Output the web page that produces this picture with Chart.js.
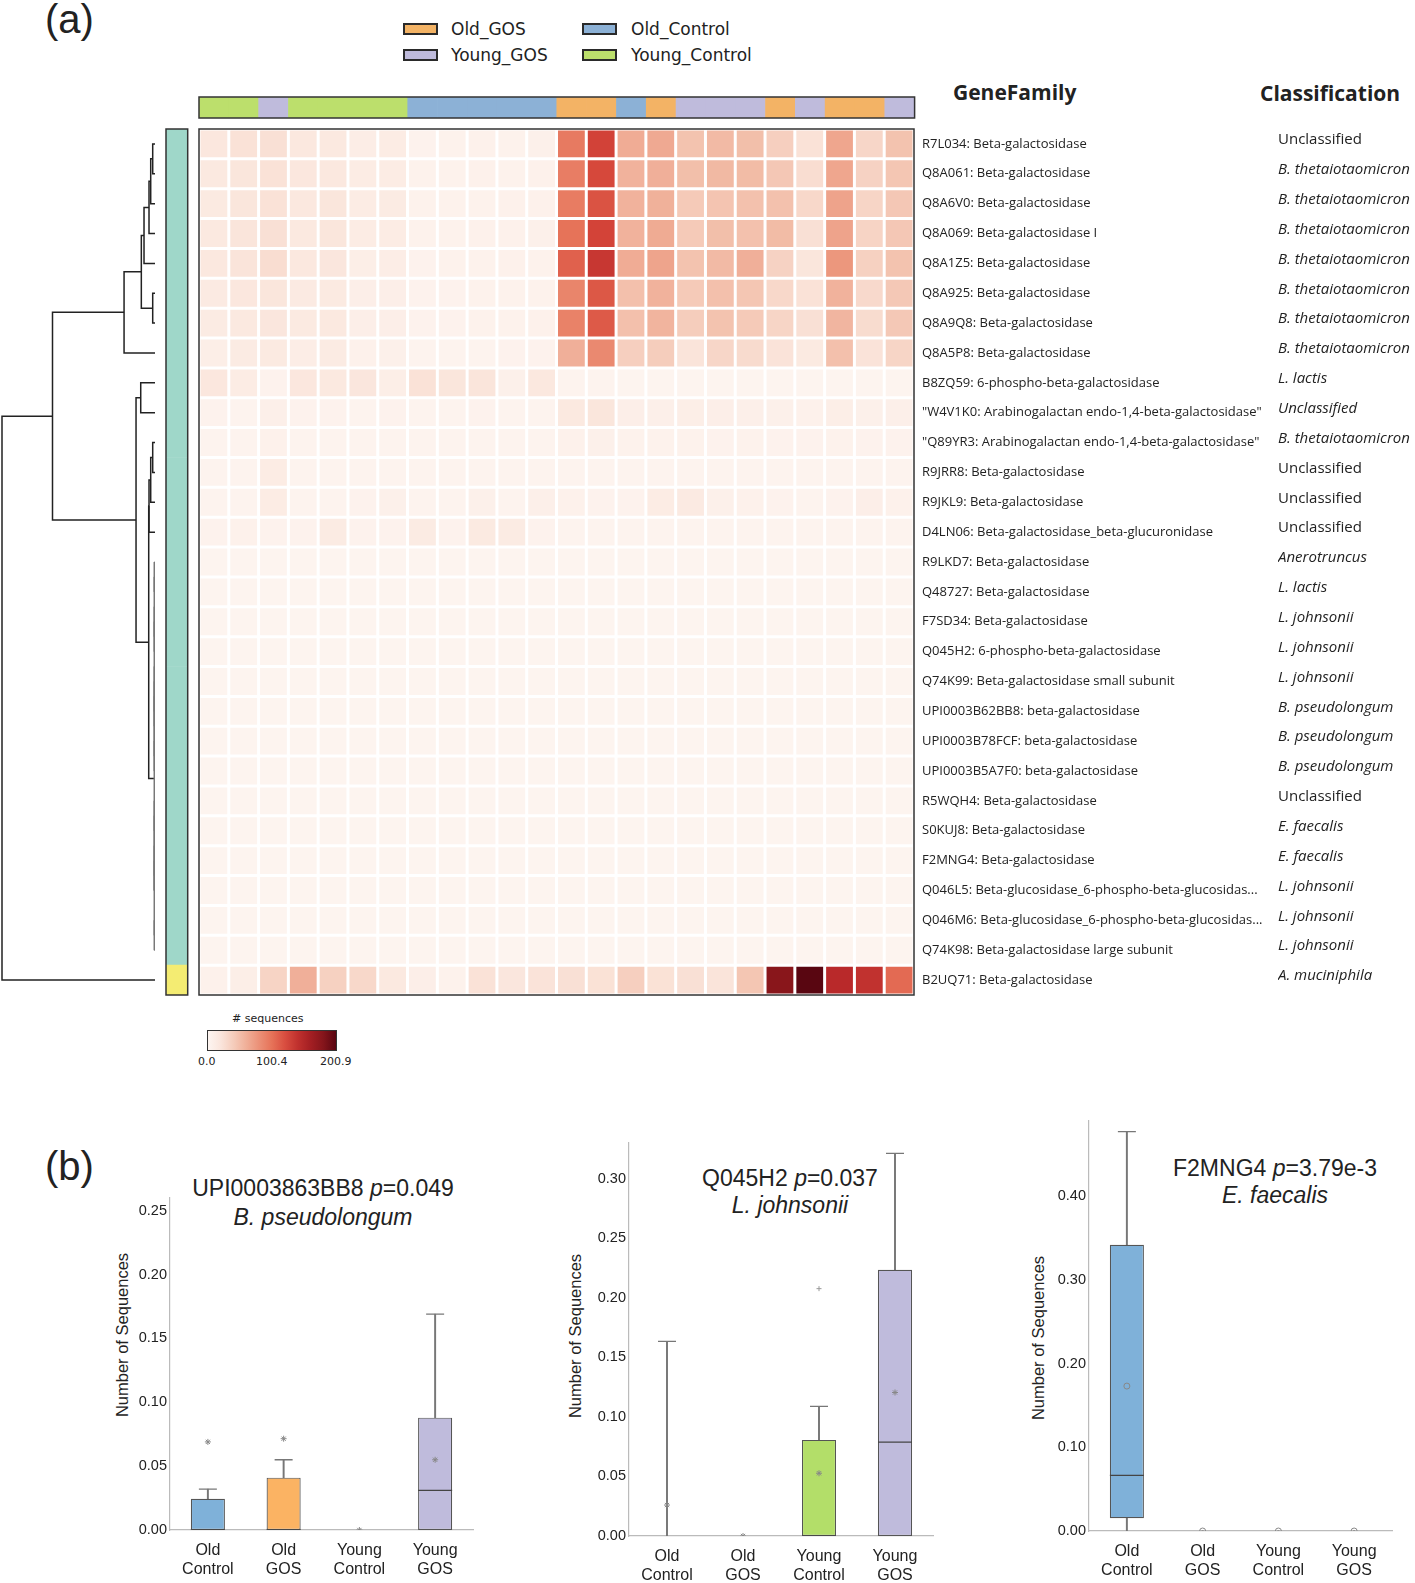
<!DOCTYPE html>
<html>
<head>
<meta charset="utf-8">
<script src="https://cdn.jsdelivr.net/npm/chart.js@4.4.0/dist/chart.umd.min.js"></script>
<style>
  body { margin: 0; background: #fff; width: 1415px; height: 1583px; position: relative; overflow: hidden;
         font-family: "Liberation Sans", Arial, sans-serif; color: #222; }
  canvas { position: absolute; }
  .txt { position: absolute; white-space: nowrap; }
  .panel { font-size: 40px; line-height: 40px; }
  .hdr { font-family: "Open Sans", sans-serif; font-weight: bold; font-size: 21px; line-height: 28px; }
  .leg { font-family: "DejaVu Sans", sans-serif; font-size: 17px; line-height: 22px; }
  .legbox { position: absolute; width: 31px; height: 8px; border: 2px solid #2a2a2a; }
  .cb { font-family: "DejaVu Sans", sans-serif; font-size: 11px; line-height: 14px; }
  .bt { font-size: 23px; line-height: 26px; text-align: center; width: 400px; }
  .ylab { font-size: 16.5px; line-height: 20px; transform: translate(-50%, -50%) rotate(-90deg); }
</style>
</head>
<body>

<div class="txt panel" style="left:45px; top:-1px;">(a)</div>
<div class="txt panel" style="left:45px; top:1146px;">(b)</div>

<div class="legbox" style="left:403px; top:23px; background:#f3b365;"></div>
<div class="txt leg" style="left:451px; top:18px;">Old_GOS</div>
<div class="legbox" style="left:403px; top:49px; background:#bfbbdc;"></div>
<div class="txt leg" style="left:451px; top:44px;">Young_GOS</div>
<div class="legbox" style="left:582px; top:23px; background:#8cb1d6;"></div>
<div class="txt leg" style="left:631px; top:18px;">Old_Control</div>
<div class="legbox" style="left:582px; top:49px; background:#bcdf6c;"></div>
<div class="txt leg" style="left:631px; top:44px;">Young_Control</div>

<div class="txt hdr" style="left:953px; top:78px;">GeneFamily</div>
<div class="txt hdr" style="left:1260px; top:79px;">Classification</div>

<canvas id="dendro" width="160" height="869" style="left:0px; top:128px;"></canvas>
<canvas id="rowbar" width="24" height="869" style="left:165px; top:128px;"></canvas>
<canvas id="colbar" width="718" height="23" style="left:198px; top:96px;"></canvas>
<canvas id="heat" width="1217" height="869" style="left:198px; top:128px;"></canvas>

<div class="txt cb" style="left:232px; top:1012px;"># sequences</div>
<div id="cbar" style="position:absolute; left:207px; top:1030px; width:128px; height:19px; border:1.5px solid #333;"></div>
<div class="txt cb" style="left:198px; top:1055px;">0.0</div>
<div class="txt cb" style="left:256px; top:1055px;">100.4</div>
<div class="txt cb" style="left:320px; top:1055px;">200.9</div>

<div class="txt bt" style="left:123px; top:1175px;">UPI0003863BB8 <i>p</i>=0.049</div>
<div class="txt bt" style="left:123px; top:1204px;"><i>B. pseudolongum</i></div>
<div class="txt bt" style="left:590px; top:1165px;">Q045H2 <i>p</i>=0.037</div>
<div class="txt bt" style="left:590px; top:1192px;"><i>L. johnsonii</i></div>
<div class="txt bt" style="left:1075px; top:1155px;">F2MNG4 <i>p</i>=3.79e-3</div>
<div class="txt bt" style="left:1075px; top:1182px;"><i>E. faecalis</i></div>

<div class="txt ylab" style="left:122px; top:1335px;">Number of Sequences</div>
<div class="txt ylab" style="left:575px; top:1336px;">Number of Sequences</div>
<div class="txt ylab" style="left:1038px; top:1338px;">Number of Sequences</div>

<canvas id="box1" width="371" height="395" style="left:112px; top:1188px;"></canvas>
<canvas id="box2" width="378" height="450" style="left:565px; top:1133px;"></canvas>
<canvas id="box3" width="373" height="472" style="left:1029px; top:1111px;"></canvas>

<script>
// ---------- heatmap data ----------
const geneFamilies = [
  "R7L034: Beta-galactosidase",
  "Q8A061: Beta-galactosidase",
  "Q8A6V0: Beta-galactosidase",
  "Q8A069: Beta-galactosidase I",
  "Q8A1Z5: Beta-galactosidase",
  "Q8A925: Beta-galactosidase",
  "Q8A9Q8: Beta-galactosidase",
  "Q8A5P8: Beta-galactosidase",
  "B8ZQ59: 6-phospho-beta-galactosidase",
  "\"W4V1K0: Arabinogalactan endo-1,4-beta-galactosidase\"",
  "\"Q89YR3: Arabinogalactan endo-1,4-beta-galactosidase\"",
  "R9JRR8: Beta-galactosidase",
  "R9JKL9: Beta-galactosidase",
  "D4LN06: Beta-galactosidase_beta-glucuronidase",
  "R9LKD7: Beta-galactosidase",
  "Q48727: Beta-galactosidase",
  "F7SD34: Beta-galactosidase",
  "Q045H2: 6-phospho-beta-galactosidase",
  "Q74K99: Beta-galactosidase small subunit",
  "UPI0003B62BB8: beta-galactosidase",
  "UPI0003B78FCF: beta-galactosidase",
  "UPI0003B5A7F0: beta-galactosidase",
  "R5WQH4: Beta-galactosidase",
  "S0KUJ8: Beta-galactosidase",
  "F2MNG4: Beta-galactosidase",
  "Q046L5: Beta-glucosidase_6-phospho-beta-glucosidas...",
  "Q046M6: Beta-glucosidase_6-phospho-beta-glucosidas...",
  "Q74K98: Beta-galactosidase large subunit",
  "B2UQ71: Beta-galactosidase"
];

const classification = [
  "Unclassified", "B. thetaiotaomicron", "B. thetaiotaomicron", "B. thetaiotaomicron",
  "B. thetaiotaomicron", "B. thetaiotaomicron", "B. thetaiotaomicron", "B. thetaiotaomicron",
  "L. lactis", "Unclassified", "B. thetaiotaomicron", "Unclassified", "Unclassified",
  "Unclassified", "Anerotruncus", "L. lactis", "L. johnsonii", "L. johnsonii", "L. johnsonii",
  "B. pseudolongum", "B. pseudolongum", "B. pseudolongum", "Unclassified", "E. faecalis",
  "E. faecalis", "L. johnsonii", "L. johnsonii", "L. johnsonii", "A. muciniphila"
];

const sampleGroups = [
  "Young_Control", "Young_Control", "Young_GOS", "Young_Control", "Young_Control",
  "Young_Control", "Young_Control", "Old_Control", "Old_Control", "Old_Control",
  "Old_Control", "Old_Control", "Old_GOS", "Old_GOS", "Old_Control", "Old_GOS",
  "Young_GOS", "Young_GOS", "Young_GOS", "Old_GOS", "Young_GOS", "Old_GOS", "Old_GOS", "Young_GOS"
];

const geneClusters = [
  "main", "main", "main", "main", "main", "main", "main", "main", "main", "main",
  "main", "main", "main", "main", "main", "main", "main", "main", "main", "main",
  "main", "main", "main", "main", "main", "main", "main", "main", "akk"
];

// # sequences per gene family (rows) and sample (columns)
const counts = [
  [18, 24, 26, 17, 16, 11, 12, 4, 5, 6, 5, 7, 95, 128, 62, 64, 47, 53, 50, 38, 24, 66, 33, 47],
  [16, 20, 24, 18, 17, 12, 12, 5, 5, 6, 5, 6, 93, 124, 58, 60, 50, 54, 52, 44, 28, 66, 36, 45],
  [15, 20, 24, 17, 20, 12, 13, 5, 5, 5, 6, 6, 94, 118, 58, 59, 42, 46, 48, 48, 32, 68, 34, 44],
  [16, 21, 26, 16, 20, 12, 12, 5, 5, 6, 6, 7, 100, 127, 58, 63, 42, 50, 48, 52, 26, 68, 35, 44],
  [17, 22, 28, 17, 19, 10, 11, 4, 5, 5, 6, 5, 110, 136, 62, 67, 47, 53, 60, 36, 20, 76, 37, 47],
  [14, 18, 20, 14, 15, 9, 9, 4, 4, 5, 5, 5, 88, 115, 49, 58, 42, 49, 45, 32, 24, 58, 31, 43],
  [13, 16, 19, 15, 16, 9, 9, 4, 4, 5, 5, 6, 90, 114, 49, 57, 40, 47, 42, 34, 26, 56, 29, 43],
  [10, 13, 15, 11, 13, 6, 7, 3, 3, 3, 4, 4, 60, 85, 38, 40, 22, 33, 30, 23, 15, 49, 23, 34],
  [18, 12, 4, 18, 16, 19, 10, 24, 20, 21, 7, 17, 3, 3, 2, 2, 2, 2, 2, 2, 2, 2, 2, 2],
  [4, 3, 8, 4, 4, 3, 4, 3, 3, 4, 3, 3, 16, 20, 9, 8, 10, 9, 8, 7, 6, 10, 7, 8],
  [3, 3, 6, 3, 3, 3, 3, 3, 3, 3, 3, 3, 6, 7, 5, 5, 5, 4, 5, 4, 4, 5, 4, 4],
  [3, 3, 12, 3, 3, 3, 3, 3, 3, 3, 3, 3, 3, 3, 3, 3, 3, 3, 3, 3, 3, 3, 3, 3],
  [3, 3, 12, 3, 3, 4, 7, 3, 3, 7, 3, 8, 6, 4, 4, 12, 14, 7, 6, 4, 3, 4, 9, 6],
  [4, 6, 4, 4, 13, 4, 4, 13, 4, 15, 13, 4, 3, 3, 3, 3, 3, 3, 3, 3, 3, 3, 3, 3],
  [2, 2, 2, 2, 2, 2, 2, 2, 2, 2, 2, 2, 2, 2, 2, 2, 2, 2, 2, 2, 2, 2, 2, 2],
  [2, 2, 2, 2, 2, 2, 2, 2, 2, 2, 2, 2, 2, 2, 2, 2, 2, 2, 2, 2, 2, 2, 2, 2],
  [2, 2, 2, 2, 2, 2, 2, 2, 2, 2, 2, 2, 2, 2, 2, 2, 2, 2, 2, 2, 2, 2, 2, 2],
  [2, 2, 2, 2, 2, 2, 2, 2, 2, 2, 2, 2, 2, 2, 2, 2, 2, 2, 2, 2, 2, 2, 2, 2],
  [2, 2, 2, 2, 2, 2, 2, 2, 2, 2, 2, 2, 2, 2, 2, 2, 2, 2, 2, 2, 2, 2, 2, 2],
  [2, 2, 2, 2, 2, 2, 2, 2, 2, 2, 2, 2, 2, 2, 2, 2, 2, 2, 2, 2, 2, 2, 2, 2],
  [2, 2, 2, 2, 2, 2, 2, 2, 2, 2, 2, 2, 2, 2, 2, 2, 2, 2, 2, 2, 2, 2, 2, 2],
  [2, 2, 2, 2, 2, 2, 2, 2, 2, 2, 2, 2, 2, 2, 2, 2, 2, 2, 2, 2, 2, 2, 2, 2],
  [2, 2, 2, 2, 2, 2, 2, 2, 2, 2, 2, 2, 2, 2, 2, 2, 2, 2, 2, 2, 2, 2, 2, 2],
  [2, 2, 2, 2, 2, 2, 2, 2, 2, 2, 2, 2, 2, 2, 2, 2, 2, 2, 2, 2, 2, 2, 2, 2],
  [2, 2, 2, 2, 2, 2, 2, 2, 2, 2, 2, 2, 2, 2, 2, 2, 2, 2, 2, 2, 2, 2, 2, 2],
  [2, 2, 2, 2, 2, 2, 2, 2, 2, 2, 2, 2, 2, 2, 2, 2, 2, 2, 2, 2, 2, 2, 2, 2],
  [2, 2, 2, 2, 2, 2, 2, 2, 2, 2, 2, 2, 2, 2, 2, 2, 2, 2, 2, 2, 2, 2, 2, 2],
  [2, 2, 2, 2, 2, 2, 2, 2, 2, 2, 2, 2, 2, 2, 2, 2, 2, 2, 2, 2, 2, 2, 2, 2],
  [6, 10, 35, 60, 37, 32, 16, 9, 5, 24, 19, 23, 26, 25, 38, 25, 26, 22, 45, 179, 201, 146, 140, 105]
];
const countMax = 200.9;

// hierarchical clustering of the rows: [childA, childB, distance]
const merges = [
  [0, 1, 2.3], [29, 2, 4.3], [30, 3, 6], [31, 4, 11], [5, 6, 2.3], [32, 33, 13.7], [34, 7, 31],
  [8, 9, 14.3], [10, 11, 2.3], [37, 12, 4.3], [38, 13, 6],
  [14, 15, 0.7], [16, 17, 0.7], [18, 19, 0.7], [20, 21, 0.7], [22, 23, 0.7], [24, 25, 0.7], [26, 27, 0.7],
  [40, 41, 0.7], [42, 43, 0.7], [44, 45, 0.7], [47, 48, 0.7], [49, 46, 0.7], [50, 51, 0.7],
  [39, 52, 6.3], [36, 53, 19], [35, 54, 102.7], [55, 28, 153.3]
];

// ---------- box plot data ----------
const groupLabels = [["Old", "Control"], ["Old", "GOS"], ["Young", "Control"], ["Young", "GOS"]];

const upiLow = [0, 0, 0, 0];
const upiQ1 = [0, 0, 0, 0];
const upiMedian = [0, 0, 0, 0.031];
const upiQ3 = [0.0245, 0.041, 0, 0.088];
const upiHigh = [0.032, 0.055, 0, 0.169];
const upiMean = [0.069, 0.0715, 0, 0.055];
const upiOutlier = [null, null, null, null];

const q045Low = [0, 0, 0, 0];
const q045Q1 = [0, 0, 0, 0];
const q045Median = [0, 0, 0, 0.0788];
const q045Q3 = [0, 0, 0.0807, 0.2235];
const q045High = [0.1634, 0, 0.1088, 0.3213];
const q045Mean = [0.026, 0, 0.0527, 0.1205];
const q045Outlier = [null, null, 0.2077, null];

const f2mLow = [0, 0, 0, 0];
const f2mQ1 = [0.0152, 0, 0, 0];
const f2mMedian = [0.0664, 0, 0, 0];
const f2mQ3 = [0.342, 0, 0, 0];
const f2mHigh = [0.4774, 0, 0, 0];
const f2mMean = [0.1732, 0, 0, 0];
const f2mOutlier = [null, null, null, null];

// ---------- styling ----------
const groupColors = {
  Old_GOS: "#f3b365", Old_Control: "#8cb1d6", Young_GOS: "#bfbbdc", Young_Control: "#bcdf6c"
};
const boxColors = ["#7fb1d9", "#fbb363", "#b3de69", "#bfbbdc"];
const clusterColors = { main: "#9fd7c9", akk: "#f4ec72" };

Chart.defaults.font.family = "'Liberation Sans', Arial, sans-serif";
Chart.defaults.color = "#222";
Chart.defaults.animation = false;
Chart.defaults.responsive = false;
Chart.defaults.devicePixelRatio = 1;
Chart.defaults.layout.autoPadding = false;
Chart.defaults.plugins.legend.display = false;
Chart.defaults.plugins.tooltip.enabled = false;

const redStops = [[255,245,240],[254,224,210],[252,187,161],[252,146,114],[251,106,74],
                  [239,59,44],[203,24,29],[165,15,21],[103,0,13]];

function reds(v) {
    const t = Math.max(0, Math.min(1, v / countMax)) * 8;
    const i = Math.min(7, Math.floor(t));
    const f = t - i;
    const a = redStops[i], b = redStops[i + 1];
    let c = a.map((x, k) => x + (b[k] - x) * f);
    const lum = 0.3 * c[0] + 0.59 * c[1] + 0.11 * c[2];
    c = c.map(x => Math.round(x * 0.8 + lum * 0.2));
    return `rgb(${c[0]},${c[1]},${c[2]})`;
}

const outline = {
    id: "outline",
    afterDatasetsDraw(chart) {
        const { ctx, chartArea: a } = chart;
        ctx.save();
        ctx.strokeStyle = "#333";
        ctx.lineWidth = 1.5;
        ctx.strokeRect(a.left, a.top, a.right - a.left, a.bottom - a.top);
        ctx.restore();
    }
};

// colour bar legend
const cbStops = [];
for (let k = 0; k <= 10; k++) cbStops.push(reds(countMax * k / 10) + " " + (k * 10) + "%");
document.getElementById("cbar").style.background = "linear-gradient(to right," + cbStops.join(",") + ")";

// ---------- heatmap ----------
new Chart(document.getElementById("heat"), {
    type: "bar",
    data: {
        labels: geneFamilies,
        datasets: sampleGroups.map((g, j) => ({
            label: g,
            data: geneFamilies.map(() => 1),
            backgroundColor: counts.map(row => reds(row[j])),
            borderColor: "#fff",
            borderWidth: 1.5,
            borderSkipped: false,
            barPercentage: 1,
            categoryPercentage: 1,
            inflateAmount: 0
        }))
    },
    options: {
        indexAxis: "y",
        layout: { padding: { left: 1, top: 1, bottom: 2, right: 0 } },
        scales: {
            x: { stacked: true, min: 0, max: sampleGroups.length, display: false },
            y: {
                stacked: true,
                position: "right",
                grid: { display: false, drawTicks: false },
                border: { display: false },
                ticks: { padding: 8, autoSkip: false, color: "#222", font: { family: "'Open Sans'", size: 13 } },
                afterFit: s => { s.width = 364; s.paddingTop = 0; s.paddingBottom = 0; }
            },
            cls: {
                type: "category",
                axis: "y",
                labels: classification,
                position: "right",
                weight: 1,
                grid: { display: false, drawTicks: false },
                border: { display: false },
                ticks: {
                    padding: 0,
                    autoSkip: false,
                    labelOffset: -4,
                    color: "#222",
                    font: c => ({
                        family: "'Open Sans'",
                        size: 15,
                        style: (classification[c.index] !== "Unclassified" || c.index === 9) ? "italic" : "normal"
                    })
                },
                afterFit: s => { s.width = 137; s.paddingTop = 0; s.paddingBottom = 0; }
            }
        }
    },
    plugins: [outline]
});

// column colour bar
new Chart(document.getElementById("colbar"), {
    type: "bar",
    data: {
        labels: sampleGroups,
        datasets: [{
            data: sampleGroups.map(() => 1),
            backgroundColor: sampleGroups.map(g => groupColors[g]),
            borderWidth: 0,
            barPercentage: 1,
            categoryPercentage: 1
        }]
    },
    options: {
        layout: { padding: { left: 1, top: 1, bottom: 1, right: 1.4 } },
        scales: { x: { display: false }, y: { display: false, min: 0, max: 1 } }
    },
    plugins: [outline]
});

// row colour bar
new Chart(document.getElementById("rowbar"), {
    type: "bar",
    data: {
        labels: geneFamilies,
        datasets: [{
            data: geneClusters.map(() => 1),
            backgroundColor: geneClusters.map(g => clusterColors[g]),
            borderWidth: 0,
            barPercentage: 1,
            categoryPercentage: 1
        }]
    },
    options: {
        indexAxis: "y",
        layout: { padding: { left: 1, top: 1, bottom: 2, right: 1.3 } },
        scales: { x: { display: false, min: 0, max: 1 }, y: { display: false } }
    },
    plugins: [outline]
});

// ---------- dendrogram ----------
const nodePos = geneFamilies.map((_, i) => i);
const nodeHeight = geneFamilies.map(() => 0);
const links = merges.map(([a, b, h]) => {
    const n = nodePos.length;
    nodePos[n] = (nodePos[a] + nodePos[b]) / 2;
    nodeHeight[n] = h;
    return {
        data: [
            { x: nodeHeight[a], y: nodePos[a] },
            { x: h, y: nodePos[a] },
            { x: h, y: nodePos[b] },
            { x: nodeHeight[b], y: nodePos[b] }
        ],
        showLine: true,
        pointRadius: 0,
        borderColor: h < 1 ? "#777" : "#222",
        borderWidth: h < 1 ? 1 : 1.5,
        clip: false
    };
});

new Chart(document.getElementById("dendro"), {
    type: "scatter",
    data: { datasets: links },
    options: {
        layout: { padding: { left: 2, right: 5, top: 1, bottom: 2 } },
        scales: {
            x: { display: false, min: 0, max: 153.3, reverse: true },
            y: { display: false, min: -0.5, max: geneFamilies.length - 0.5, reverse: true }
        }
    }
});

// ---------- box plots ----------
function boxPlot(id, s, yMax, step, yWidth, xHeight, meanStyle) {
    const datasets = [
        {
            data: s.q1.map((v, i) => [v, s.q3[i]]),
            backgroundColor: boxColors,
            borderColor: "#555",
            borderWidth: 1.2,
            borderSkipped: false,
            grouped: false,
            barPercentage: 0.45,
            categoryPercentage: 1,
            order: 2
        },
        {
            data: s.q3.map((v, i) => [v, s.high[i]]),
            backgroundColor: "#777",
            barThickness: 1.3,
            grouped: false,
            order: 3
        },
        {
            data: s.low.map((v, i) => [v, s.q1[i]]),
            backgroundColor: "#777",
            barThickness: 1.3,
            grouped: false,
            order: 3
        },
        {
            type: "line",
            data: s.high.map((v, i) => v > s.q3[i] ? v : null),
            showLine: false,
            pointStyle: "line",
            pointRadius: 9,
            borderColor: "#777",
            borderWidth: 1.3,
            order: 1
        },
        {
            type: "line",
            data: s.median.map((v, i) => s.q3[i] > s.q1[i] ? v : null),
            showLine: false,
            pointStyle: "line",
            pointRadius: 17,
            borderColor: "#444",
            borderWidth: 1.3,
            order: 1
        },
        {
            type: "line",
            data: s.mean,
            showLine: false,
            pointStyle: meanStyle,
            pointRadius: 3,
            borderColor: "#888",
            backgroundColor: "rgba(0,0,0,0)",
            borderWidth: 1,
            order: 0
        },
        {
            type: "line",
            data: s.outlier,
            showLine: false,
            pointStyle: "cross",
            pointRadius: 2.5,
            borderColor: "#999",
            borderWidth: 1,
            order: 0
        }
    ];

    new Chart(document.getElementById(id), {
        type: "bar",
        data: { labels: groupLabels, datasets },
        options: {
            layout: { padding: { top: 10, right: 10 } },
            scales: {
                x: {
                    grid: { display: false, drawTicks: false },
                    border: { color: "#bbb", width: 1.2 },
                    ticks: { padding: 11, color: "#222", font: { size: 16 } },
                    afterFit: sc => { sc.height = xHeight; sc.paddingLeft = 0; sc.paddingRight = 0; }
                },
                y: {
                    min: 0,
                    max: yMax,
                    grid: { display: false, drawTicks: false },
                    border: { color: "#bbb", width: 1.2 },
                    ticks: {
                        stepSize: step, includeBounds: false, padding: 3, color: "#222", font: { size: 14.5 },
                        callback: v => v.toFixed(2)
                    },
                    afterBuildTicks: sc => {
                        sc.ticks = sc.ticks.filter(t => Math.abs(t.value / step - Math.round(t.value / step)) < 1e-6);
                    },
                    afterFit: sc => { sc.width = yWidth; sc.paddingTop = 0; sc.paddingBottom = 0; }
                }
            }
        }
    });
}

boxPlot("box1", { low: upiLow, q1: upiQ1, median: upiMedian, q3: upiQ3, high: upiHigh, mean: upiMean, outlier: upiOutlier },
        0.26, 0.05, 58, 53, "star");
boxPlot("box2", { low: q045Low, q1: q045Q1, median: q045Median, q3: q045Q3, high: q045High, mean: q045Mean, outlier: q045Outlier },
        0.33, 0.05, 64, 47, "star");
boxPlot("box3", { low: f2mLow, q1: f2mQ1, median: f2mMedian, q3: f2mQ3, high: f2mHigh, mean: f2mMean, outlier: f2mOutlier },
        0.49, 0.1, 60, 52, "circle");
</script>
</body>
</html>
